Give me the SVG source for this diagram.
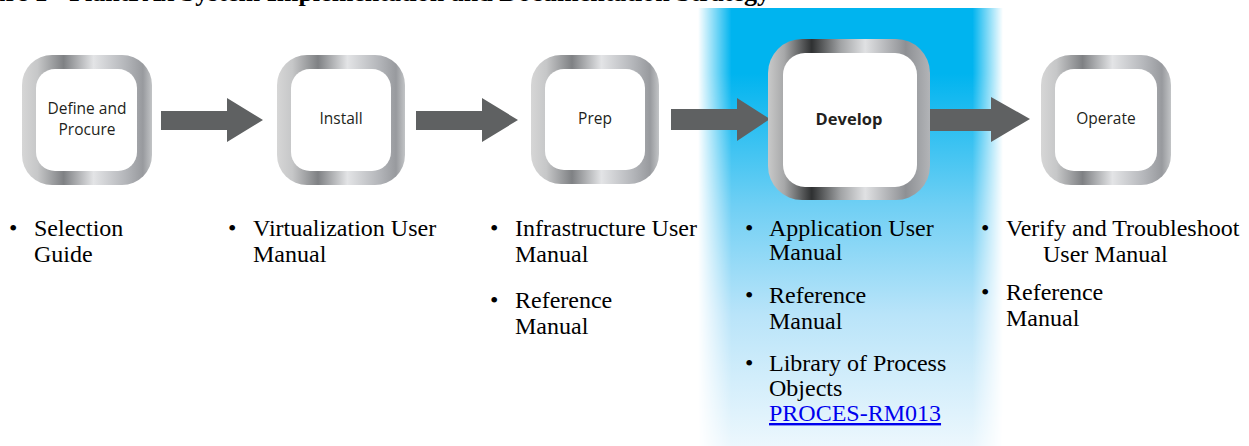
<svg xmlns="http://www.w3.org/2000/svg" width="1249" height="446" viewBox="0 0 1249 446">
<defs>
<linearGradient id="metal" x1="0" y1="0" x2="1" y2="0">
<stop offset="0" stop-color="#d6d6d6"/>
<stop offset="0.12" stop-color="#c6c7c8"/>
<stop offset="0.32" stop-color="#7f8184"/>
<stop offset="0.55" stop-color="#e3e4e6"/>
<stop offset="0.8" stop-color="#b3b5b9"/>
<stop offset="0.93" stop-color="#989a9e"/>
<stop offset="1" stop-color="#c2c4c6"/>
</linearGradient>
<linearGradient id="metalDark" x1="0" y1="0" x2="1" y2="0">
<stop offset="0" stop-color="#c9c9c9"/>
<stop offset="0.1" stop-color="#a7a8a9"/>
<stop offset="0.27" stop-color="#2f3132"/>
<stop offset="0.45" stop-color="#a2a4a6"/>
<stop offset="0.6" stop-color="#e0e1e3"/>
<stop offset="0.85" stop-color="#8e9094"/>
<stop offset="1" stop-color="#b2b4b7"/>
</linearGradient>
<linearGradient id="blueV" x1="0" y1="0" x2="0" y2="1">
<stop offset="0" stop-color="#00b4ef"/>
<stop offset="0.15" stop-color="#00b4ef"/>
<stop offset="0.45" stop-color="#6fcff4"/>
<stop offset="0.7" stop-color="#b9e4f9"/>
<stop offset="1" stop-color="#ecf7fd"/>
</linearGradient>
<linearGradient id="fadeH" x1="0" y1="0" x2="1" y2="0">
<stop offset="0" stop-color="#000"/>
<stop offset="0.11" stop-color="#fff"/>
<stop offset="0.9" stop-color="#fff"/>
<stop offset="1" stop-color="#000"/>
</linearGradient>
<mask id="edgeFade" maskUnits="userSpaceOnUse" x="698" y="8" width="305" height="438">
<rect x="698" y="8" width="305" height="438" fill="url(#fadeH)"/>
</mask>
<style>
.ring{fill:url(#metal)}
.ringD{fill:url(#metalDark)}
.inner{fill:#ffffff}
.lbl{font-family:"Open Sans","Noto Sans",sans-serif;font-size:15.5px;fill:#231f20;text-anchor:middle}
.lblB{font-family:"Open Sans","Noto Sans",sans-serif;font-size:16.5px;font-weight:bold;fill:#231f20;text-anchor:middle}
.doc{font-family:"Liberation Serif","Times New Roman",serif;font-size:24px;fill:#000}
.link{fill:#0000ee;text-decoration:underline}
.arrow{fill:#5f6162}
.title{font-family:"Liberation Serif","Times New Roman",serif;font-size:26px;font-weight:bold;fill:#000}
</style>
</defs>

<rect x="698" y="8" width="305" height="438" fill="url(#blueV)" mask="url(#edgeFade)"/>

<text class="title" x="770" y="0.5" text-anchor="end">Figure 1 - PlantPAx System Implementation and Documentation Strategy</text>

<g id="connectors">
<polygon class="arrow" points="161,111 227,111 227,98 263,120 227,142 227,130 161,130"/>
<polygon class="arrow" points="416,111 482,111 482,98 518,120 482,142 482,130 416,130"/>
<polygon class="arrow" points="671,109 737,109 737,98 770,119 737,141 737,130 671,130"/>
<polygon class="arrow" points="930,109 991,109 991,97 1030,119 991,142 991,131 930,131"/>
</g>

<g id="node-define">
<rect class="ring" x="22" y="55" width="130" height="130" rx="30"/>
<rect class="inner" x="36" y="69" width="101" height="102" rx="19"/>
<text class="lbl" x="87" y="114">Define and</text>
<text class="lbl" x="87" y="135">Procure</text>
</g>

<g id="node-install">
<rect class="ring" x="277" y="55" width="128" height="130" rx="30"/>
<rect class="inner" x="291" y="69" width="100" height="102" rx="19"/>
<text class="lbl" x="341" y="124">Install</text>
</g>

<g id="node-prep">
<rect class="ring" x="531" y="55" width="128" height="129" rx="30"/>
<rect class="inner" x="545" y="69" width="100" height="101" rx="19"/>
<text class="lbl" x="595" y="124">Prep</text>
</g>

<g id="node-develop">
<rect class="ringD" x="768" y="39" width="162" height="161" rx="34"/>
<rect class="inner" x="783" y="53" width="134" height="134" rx="22"/>
<text class="lblB" x="849" y="125">Develop</text>
</g>

<g id="node-operate">
<rect class="ring" x="1041" y="55" width="130" height="130" rx="30"/>
<rect class="inner" x="1055" y="69" width="102" height="102" rx="19"/>
<text class="lbl" x="1106" y="124">Operate</text>
</g>

<g id="docs-define" class="doc">
<text x="9" y="236">•</text>
<text x="34" y="236">Selection</text>
<text x="34" y="262">Guide</text>
</g>

<g id="docs-install" class="doc">
<text x="228" y="236">•</text>
<text x="253" y="236">Virtualization User</text>
<text x="253" y="262">Manual</text>
</g>

<g id="docs-prep" class="doc">
<text x="490" y="236">•</text>
<text x="515" y="236">Infrastructure User</text>
<text x="515" y="262">Manual</text>
<text x="490" y="308">•</text>
<text x="515" y="308">Reference</text>
<text x="515" y="334">Manual</text>
</g>

<g id="docs-develop" class="doc">
<text x="745" y="236">•</text>
<text x="769" y="236">Application User</text>
<text x="769" y="260">Manual</text>
<text x="745" y="303">•</text>
<text x="769" y="303">Reference</text>
<text x="769" y="329">Manual</text>
<text x="745" y="371">•</text>
<text x="769" y="371">Library of Process</text>
<text x="769" y="396">Objects</text>
<text class="link" x="769" y="421">PROCES-RM013</text>
</g>

<g id="docs-operate" class="doc">
<text x="981" y="236">•</text>
<text x="1006" y="236">Verify and Troubleshoot</text>
<text x="1043" y="262">User Manual</text>
<text x="981" y="300">•</text>
<text x="1006" y="300">Reference</text>
<text x="1006" y="326">Manual</text>
</g>
</svg>
